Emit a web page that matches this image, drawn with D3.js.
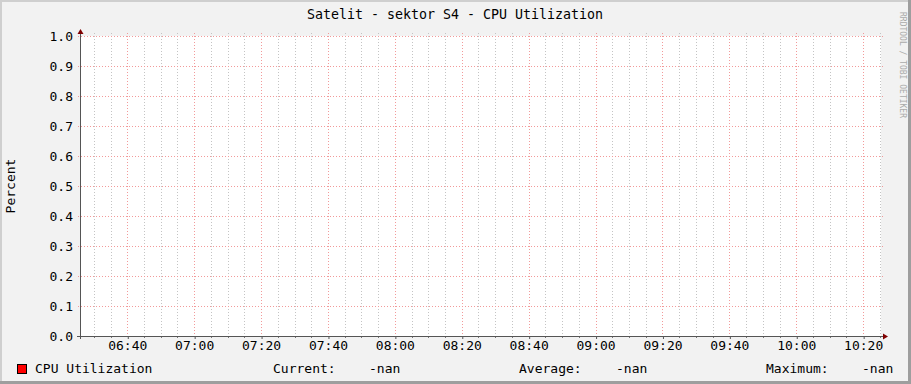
<!DOCTYPE html>
<html lang="en">
<head>
    <meta charset="UTF-8">
    <title>Satelit - sektor S4 - CPU Utilization</title>
    <style>
        body {
            margin: 0;
            padding: 0;
            background: #fff;
        }
        svg text {
            font-family: "DejaVu Sans Mono", monospace;
            font-size: 13px;
            fill: #000;
        }
    </style>
</head>
<body>
    <div id="chart"></div>

    <script src="https://cdnjs.cloudflare.com/ajax/libs/d3/7.8.5/d3.min.js"></script>
    <script>
        // データ
        const title = "Satelit - sektor S4 - CPU Utilization";
        const yLabel = "Percent";
        const timeStart = [2024, 0, 1, 6, 26, 10];
        const timeEnd = [2024, 0, 1, 10, 25, 20];
        const yDomain = [0, 1];
        const yTickCount = 10;
        const cpuTimes = [];
        const cpuValues = [];   // 全部 NaN -> 線なし
        const legendNames = ["CPU Utilization"];
        const legendColors = ["#ff0000"];
        const statLabels = ["Current:", "Average:", "Maximum:"];
        const statValues = ["-nan", "-nan", "-nan"];
        const watermark = "RRDTOOL / TOBI OETIKER";

        const width = 911;
        const height = 384;
        const plotLeft = 81, plotRight = 881, plotTop = 36, plotBottom = 336;

        const svg = d3.select("#chart")
            .append("svg")
            .attr("width", width)
            .attr("height", height);

        // 背景と枠
        svg.append("rect").attr("width", width).attr("height", height).attr("fill", "#f2f2f2");
        svg.append("rect").attr("x", 0).attr("y", 0).attr("width", width).attr("height", 2).attr("fill", "#cfcfcf");
        svg.append("rect").attr("x", 0).attr("y", 0).attr("width", 2).attr("height", height).attr("fill", "#cfcfcf");
        svg.append("rect").attr("x", 0).attr("y", height - 3).attr("width", width).attr("height", 3).attr("fill", "#9e9e9e");
        svg.append("rect").attr("x", width - 3).attr("y", 0).attr("width", 3).attr("height", height).attr("fill", "#9e9e9e");

        svg.append("rect")
            .attr("x", plotLeft).attr("y", plotTop)
            .attr("width", plotRight - plotLeft).attr("height", plotBottom - plotTop)
            .attr("fill", "#fff");

        const x = d3.scaleTime()
            .domain([new Date(...timeStart), new Date(...timeEnd)])
            .range([plotLeft, plotRight]);

        const y = d3.scaleLinear()
            .domain(yDomain)
            .range([plotBottom, plotTop]);

        const px = v => Math.round(v) + 0.5;

        // 補助グリッド (5分)
        const minor = x.ticks(d3.timeMinute.every(5)).filter(d => d.getMinutes() % 20 !== 0);
        const major = x.ticks(d3.timeMinute.every(20));

        svg.append("g").selectAll("line")
            .data(minor)
            .enter().append("line")
            .attr("x1", d => px(x(d))).attr("x2", d => px(x(d)))
            .attr("y1", plotTop - 3).attr("y2", plotBottom)
            .attr("stroke", "#c4c4c4")
            .attr("stroke-dasharray", "1,2");

        svg.append("g").selectAll("line")
            .data(y.ticks(yTickCount))
            .enter().append("line")
            .attr("x1", plotLeft - 3).attr("x2", plotRight + 2)
            .attr("y1", d => px(y(d))).attr("y2", d => px(y(d)))
            .attr("stroke", "#f29a9a")
            .attr("stroke-dasharray", "1,2");

        svg.append("g").selectAll("line")
            .data(major)
            .enter().append("line")
            .attr("x1", d => px(x(d))).attr("x2", d => px(x(d)))
            .attr("y1", plotTop - 3).attr("y2", plotBottom)
            .attr("stroke", "#f29a9a")
            .attr("stroke-dasharray", "1,2");

        // データ線 (値なし)
        const line = d3.line()
            .defined(d => !isNaN(d[1]))
            .x(d => x(d[0]))
            .y(d => y(d[1]));
        svg.append("path")
            .datum(cpuTimes.map((t, i) => [t, cpuValues[i]]))
            .attr("d", line)
            .attr("fill", "none")
            .attr("stroke", legendColors[0]);

        // x 軸
        const xAxis = d3.axisBottom(x)
            .ticks(d3.timeMinute.every(20))
            .tickFormat(d3.timeFormat("%H:%M"))
            .tickSize(3)
            .tickPadding(3);
        const gx = svg.append("g")
            .attr("transform", `translate(0,${plotBottom})`)
            .call(xAxis);
        gx.select(".domain").remove();
        gx.selectAll(".tick line").attr("stroke", "#555").attr("transform", "translate(0.5,0)");
        gx.selectAll(".tick text")
            .attr("font-family", "DejaVu Sans Mono")
            .attr("font-size", "13.2px")
            .attr("fill", "#000")
            .attr("y", 5)
            .attr("dy", "0.71em");

        svg.append("g").selectAll("line")
            .data(minor)
            .enter().append("line")
            .attr("x1", d => px(x(d))).attr("x2", d => px(x(d)))
            .attr("y1", plotBottom).attr("y2", plotBottom + 2)
            .attr("stroke", "#777");

        // y 軸
        const yAxis = d3.axisLeft(y)
            .ticks(yTickCount)
            .tickFormat(d3.format(".1f"))
            .tickSize(0)
            .tickPadding(8);
        const gy = svg.append("g")
            .attr("transform", `translate(${plotLeft},0)`)
            .call(yAxis);
        gy.select(".domain").remove();
        gy.selectAll(".tick text")
            .attr("font-family", "DejaVu Sans Mono")
            .attr("font-size", "13.2px")
            .attr("fill", "#000")
            .attr("dy", "0.36em");

        // 軸線と矢印
        svg.append("line")
            .attr("x1", plotLeft - 4).attr("x2", plotRight + 3)
            .attr("y1", plotBottom + 0.5).attr("y2", plotBottom + 0.5)
            .attr("stroke", "#555");
        svg.append("line")
            .attr("x1", plotLeft - 0.5).attr("x2", plotLeft - 0.5)
            .attr("y1", plotBottom + 3).attr("y2", plotTop - 3)
            .attr("stroke", "#555");
        svg.append("path")
            .attr("d", `M${plotRight + 2},${plotBottom - 2.5}L${plotRight + 7},${plotBottom + 0.5}L${plotRight + 2},${plotBottom + 3.5}Z`)
            .attr("fill", "#7f0000");
        svg.append("path")
            .attr("d", `M${plotLeft - 3.5},${plotTop - 2}L${plotLeft - 0.5},${plotTop - 7}L${plotLeft + 2.5},${plotTop - 2}Z`)
            .attr("fill", "#7f0000");

        // タイトル
        svg.append("text")
            .attr("x", 455).attr("y", 19)
            .attr("text-anchor", "middle")
            .style("font-size", "13.3px")
            .text(title);

        svg.append("text")
            .attr("transform", `translate(15,${(plotTop + plotBottom) / 2}) rotate(-90)`)
            .attr("text-anchor", "middle")
            .text(yLabel);

        svg.append("text")
            .attr("transform", "translate(900,12) rotate(90)")
            .style("font-size", "8px")
            .style("fill", "#aaa")
            .text(watermark);

        // 凡例
        const legendY = 373;
        svg.append("rect")
            .attr("x", 17.5).attr("y", 364.5)
            .attr("width", 9).attr("height", 9)
            .attr("fill", legendColors[0])
            .attr("stroke", "#000");
        svg.append("text").attr("x", 35).attr("y", legendY).text(legendNames[0]);

        const statLabelX = [273, 519, 766];
        const statValueX = [369, 616, 862];
        statLabels.forEach((s, i) => {
            svg.append("text").attr("x", statLabelX[i]).attr("y", legendY).text(s);
            svg.append("text").attr("x", statValueX[i]).attr("y", legendY).text(statValues[i]);
        });
    </script>
</body>
</html>
